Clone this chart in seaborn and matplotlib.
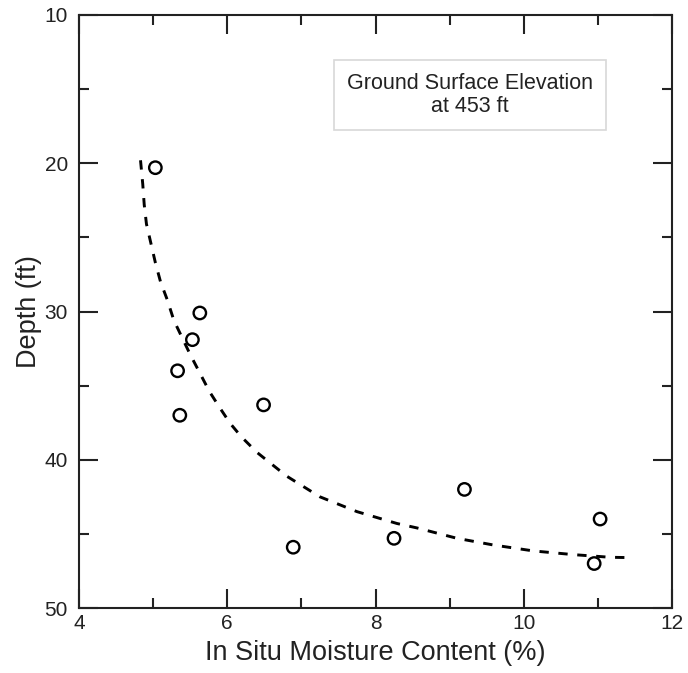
import matplotlib
matplotlib.use("Agg")
import matplotlib.pyplot as plt
from matplotlib.ticker import MultipleLocator
import seaborn as sns
import pandas as pd

# Measured samples
moisture = [5.03, 5.63, 5.53, 5.33, 5.36, 6.49, 6.89, 8.25, 9.20, 10.95, 11.03]
depth = [20.3, 30.1, 31.9, 34.0, 37.0, 36.3, 45.9, 45.3, 42.0, 47.0, 44.0]

# Trend curve (moisture %, depth ft)
trend_moisture = [4.83, 4.86, 4.88, 4.91, 4.97, 5.03, 5.10, 5.19, 5.28, 5.385,
                  5.50, 5.625, 5.76, 5.90, 6.04, 6.19, 6.40, 6.80, 7.25, 7.75,
                  8.29, 8.56, 9.10, 9.59, 10.13, 10.67, 11.17, 11.43]
trend_depth = [19.8, 21.4, 22.8, 24.1, 25.4, 26.7, 28.0, 29.2, 30.6, 31.7,
               32.9, 34.1, 35.4, 36.5, 37.55, 38.45, 39.5, 41.1, 42.5, 43.5,
               44.3, 44.6, 45.3, 45.75, 46.15, 46.4, 46.58, 46.6]

x_ticks = [4, 6, 8, 10, 12]
y_ticks = [10, 20, 30, 40, 50]
note = "Ground Surface Elevation\nat 453 ft"

sns.set_theme(style="ticks")
plt.rcParams["font.family"] = ["Liberation Sans", "DejaVu Sans"]

samples = pd.DataFrame({"moisture": moisture, "depth": depth})
trend = pd.DataFrame({"moisture": trend_moisture, "depth": trend_depth})

fig = plt.figure(figsize=(6.88, 6.73), dpi=100)
ax = fig.add_axes([79 / 688, 65 / 673, 593 / 688, 593 / 673])

sns.lineplot(data=trend, x="moisture", y="depth", sort=False, ax=ax,
             color="black", linewidth=2.1, linestyle=(0, (3.2, 3.3)),
             dash_capstyle="butt")
sns.scatterplot(data=samples, x="moisture", y="depth", ax=ax,
                marker="o", s=80, facecolor="none", edgecolor="black",
                linewidth=1.7, zorder=3)

ax.set_xlim(4, 12)
ax.set_ylim(50, 10)
ax.set_xticks(x_ticks)
ax.set_yticks(y_ticks)
ax.xaxis.set_minor_locator(MultipleLocator(1))
ax.yaxis.set_minor_locator(MultipleLocator(5))

ax.tick_params(which="both", direction="in", top=True, right=True,
               color="#222222", width=1.5, labelsize=15, labelcolor="#222222")
ax.tick_params(which="major", length=14)
ax.tick_params(which="minor", length=7)
ax.tick_params(axis="x", which="major", pad=4)
ax.tick_params(axis="y", which="major", pad=8)

for sp in ax.spines.values():
    sp.set_visible(True)
    sp.set_linewidth(1.5)
    sp.set_color("#222222")

ax.set_xlabel("In Situ Moisture Content (%)", fontsize=19.5, color="#222222",
              labelpad=5)
ax.set_ylabel("Depth (ft)", fontsize=19.5, color="#222222", labelpad=2)

ax.text(0.659, 0.865, note, transform=ax.transAxes, ha="center", va="center",
        fontsize=15.5, color="#222222", linespacing=1.1,
        bbox=dict(boxstyle="square,pad=0.6", facecolor="white",
                  edgecolor="#d8d8d8", linewidth=1.2))

fig.savefig("out.png", dpi=100)
